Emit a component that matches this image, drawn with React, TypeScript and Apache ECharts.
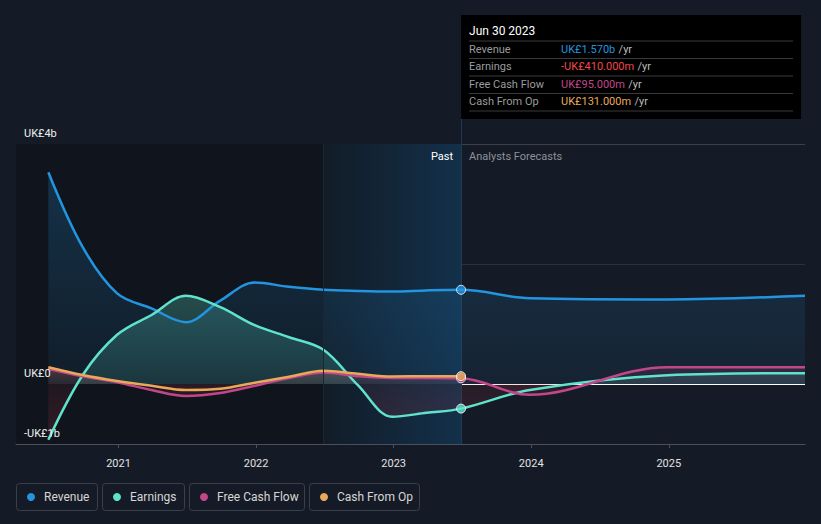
import React, { useEffect, useRef } from 'react';
import * as echarts from 'echarts';

// ---- data (UK£ billions) ----
const pastDates = [2020.49, 2020.74, 2020.99, 2021.24, 2021.49, 2021.74, 2021.99, 2022.24, 2022.49, 2022.74, 2022.99, 2023.24, 2023.49];
const forecastDates = [2023.99, 2024.99, 2025.99];
const revenuePast = [3.53, 2.28, 1.51, 1.26, 1.03, 1.39, 1.69, 1.62, 1.57, 1.55, 1.54, 1.56, 1.57];
const revenueForecast = [1.43, 1.41, 1.47];
const earningsPast = [-0.93, 0.15, 0.82, 1.15, 1.47, 1.28, 0.98, 0.78, 0.57, -0.02, -0.545, -0.48, -0.41];
const earningsForecast = [-0.1, 0.145, 0.18];
const fcfPast = [0.25, 0.13, 0.03, -0.1, -0.2, -0.15, -0.03, 0.1, 0.19, 0.13, 0.1, 0.1, 0.095];
const fcfForecast = [-0.18, 0.28, 0.28];
const cfoPast = [0.28, 0.15, 0.05, -0.03, -0.1, -0.08, 0.02, 0.12, 0.22, 0.17, 0.125, 0.13, 0.131];
const yearTicks = [2021, 2022, 2023, 2024, 2025];
const yLabelValues = [4, 0, -1];
const yLabelTexts = ['UK£4b', 'UK£0', '-UK£1b'];
const xMin = 2020.255;
const xMax = 2025.99;
const highlightStart = 2022.49;
const pastEnd = 2023.49;
const tooltipDate = 'Jun 30 2023';
const seriesNames = ['Revenue', 'Earnings', 'Free Cash Flow', 'Cash From Op'];
const colors = ['#2394df', '#5fe3cc', '#c2468a', '#e9a95b'];

const pair = (xs: number[], ys: number[]) => xs.map((x, i) => [x, ys[i]]);

function fmt(v: number) {
  const a = Math.abs(v);
  const s = a >= 1 ? 'UK£' + a.toFixed(3) + 'b' : 'UK£' + (a * 1000).toFixed(3) + 'm';
  return (v < 0 ? '-' : '') + s;
}

function splitGradient(vals: number[], top: string, mid: string, negMid: string, bottom: string) {
  const mx = Math.max(0, ...vals);
  const mn = Math.min(0, ...vals);
  const zf = mx - mn === 0 ? 1 : mx / (mx - mn);
  return new echarts.graphic.LinearGradient(0, 0, 0, 1, [
    { offset: 0, color: top },
    { offset: zf, color: mid },
    { offset: zf, color: negMid },
    { offset: 1, color: bottom },
  ]);
}

export default function App() {
  const ref = useRef<HTMLDivElement>(null);
  useEffect(() => {
    document.body.style.margin = '0';
    const chart = echarts.init(ref.current!, null, { renderer: 'svg' });
    const revenue = pair(pastDates, revenuePast).concat(pair(forecastDates, revenueForecast));
    const earnings = pair(pastDates, earningsPast).concat(pair(forecastDates, earningsForecast));
    const fcf = pair(pastDates, fcfPast).concat(pair(forecastDates, fcfForecast));
    const cfo = pair(pastDates, cfoPast);
    const last = pastDates.length - 1;
    const lastVals = [revenuePast[last], earningsPast[last], fcfPast[last], cfoPast[last]];

    const lineBase = {
      type: 'line',
      smooth: 0.35,
      symbol: 'none',
      z: 2,
      lineStyle: { width: 2.5 },
    };

    chart.setOption({
      animation: false,
      backgroundColor: '#151b26',
      textStyle: { fontFamily: 'Roboto, sans-serif' },
      grid: { left: 16, right: 16, top: 144, bottom: 80 },
      xAxis: {
        type: 'value',
        min: xMin,
        max: xMax,
        splitLine: { show: false },
        axisLine: { onZero: false, lineStyle: { color: '#4a4f59', width: 1 } },
        axisTick: { show: true, customValues: yearTicks, length: 4, lineStyle: { color: '#4a4f59' } },
        axisLabel: {
          customValues: yearTicks,
          color: '#e2e2e2',
          fontSize: 11,
          margin: 14,
          formatter: (v: number) => String(Math.round(v)),
        },
      },
      yAxis: {
        type: 'value',
        min: -1,
        max: 4,
        interval: 1,
        axisLine: { show: false },
        axisTick: { show: false },
        axisLabel: { show: false },
        splitLine: {
          show: true,
          lineStyle: {
            color: ['rgba(0,0,0,0)', '#ffffff', 'rgba(0,0,0,0)', '#2b3039', 'rgba(0,0,0,0)', '#3b4049'],
            width: 1,
          },
        },
      },
      series: [
        {
          type: 'line',
          name: 'bg',
          data: [[pastEnd, 0]],
          symbol: 'none',
          lineStyle: { opacity: 0 },
          z: 1,
          silent: true,
          markArea: {
            silent: true,
            data: [
              [{ xAxis: xMin, itemStyle: { color: '#10151d' } }, { xAxis: highlightStart }],
              [
                {
                  xAxis: highlightStart,
                  itemStyle: {
                    color: new echarts.graphic.LinearGradient(0, 0, 1, 0, [
                      { offset: 0, color: '#121c27' },
                      { offset: 1, color: '#13304a' },
                    ]),
                  },
                },
                { xAxis: pastEnd },
              ],
            ],
          },
          markLine: {
            silent: true,
            symbol: 'none',
            label: { show: false },
            lineStyle: { color: '#182838', type: 'solid', width: 1, opacity: 1 },
            data: [{ xAxis: highlightStart }],
          },
        },
        {
          ...lineBase,
          name: seriesNames[0],
          data: revenue,
          lineStyle: { width: 2.5, color: colors[0] },
          itemStyle: { color: colors[0] },
          areaStyle: {
            color: splitGradient(revenue.map((d) => d[1]), 'rgba(35,148,223,0.32)', 'rgba(35,148,223,0.09)', 'rgba(35,148,223,0.09)', 'rgba(35,148,223,0.09)'),
          },
        },
        {
          ...lineBase,
          name: seriesNames[1],
          data: earnings,
          lineStyle: { width: 2.5, color: colors[1] },
          itemStyle: { color: colors[1] },
          areaStyle: {
            color: splitGradient(earnings.map((d) => d[1]), 'rgba(95,227,204,0.38)', 'rgba(95,227,204,0.18)', 'rgba(200,55,70,0.12)', 'rgba(200,55,70,0.28)'),
          },
        },
        {
          ...lineBase,
          name: seriesNames[2],
          data: fcf,
          lineStyle: { width: 2.5, color: colors[2] },
          itemStyle: { color: colors[2] },
          areaStyle: {
            color: splitGradient(fcf.map((d) => d[1]), 'rgba(194,70,138,0.22)', 'rgba(194,70,138,0.10)', 'rgba(200,55,70,0.10)', 'rgba(200,55,70,0.2)'),
          },
        },
        {
          ...lineBase,
          name: seriesNames[3],
          data: cfo,
          lineStyle: { width: 2.5, color: colors[3] },
          itemStyle: { color: colors[3] },
          areaStyle: {
            color: splitGradient(cfo.map((d) => d[1]), 'rgba(233,169,91,0.2)', 'rgba(233,169,91,0.08)', 'rgba(200,55,70,0.08)', 'rgba(200,55,70,0.15)'),
          },
        },
        {
          type: 'scatter',
          name: 'markers',
          z: 5,
          symbolSize: 9,
          silent: true,
          data: [2, 1, 0, 3].map((i) => ({
            value: [pastEnd, lastVals[i]],
            itemStyle: { color: colors[i], borderColor: '#ffffff', borderWidth: 1 },
          })),
        },
      ],
    });

    const [px, gridTop] = chart.convertToPixel({ gridIndex: 0 }, [pastEnd, 4]) as number[];
    const [gridLeft, gridBottom] = chart.convertToPixel({ gridIndex: 0 }, [xMin, -1]) as number[];

    const yLabelEls = yLabelValues.map((v, i) => {
      const y = (chart.convertToPixel({ gridIndex: 0 }, [xMin, v]) as number[])[1];
      return {
        type: 'text', z: 10, x: gridLeft + 8, y: y - 5,
        style: { text: yLabelTexts[i], fill: '#f0f0f0', font: '11px Roboto, sans-serif', verticalAlign: 'bottom' },
      };
    });

    const boxTop = 15;
    const boxW = 340;
    const boxH = 104;
    const rowYs = [49, 66.5, 84, 101];
    const sepYs = [41, 58.5, 76, 93.5, 111];

    const tooltipEls: any[] = [
      { type: 'rect', shape: { x: px, y: boxTop, width: boxW, height: boxH }, style: { fill: '#000000' }, z: 10 },
      {
        type: 'text', x: px + 8, y: 31, z: 11,
        style: { text: tooltipDate, fill: '#ffffff', font: '12px Roboto, sans-serif', verticalAlign: 'middle' },
      },
      ...sepYs.map((y) => ({
        type: 'line', z: 11,
        shape: { x1: px + 8, y1: y, x2: px + boxW - 8, y2: y },
        style: { stroke: '#3a3a3a', lineWidth: 1 },
      })),
      ...seriesNames.map((n, i) => ({
        type: 'text', x: px + 8, y: rowYs[i], z: 11,
        style: { text: n, fill: '#9b9b9b', font: '11px Roboto, sans-serif', verticalAlign: 'middle' },
      })),
      ...seriesNames.map((n, i) => ({
        type: 'text', x: px + 100, y: rowYs[i], z: 11,
        style: {
          text: '{v|' + fmt(lastVals[i]) + '} {u|/yr}',
          verticalAlign: 'middle',
          rich: {
            v: { fill: lastVals[i] < 0 ? '#f04848' : colors[i], font: '11px Roboto, sans-serif' },
            u: { fill: '#bdbdbd', font: '11px Roboto, sans-serif' },
          },
        },
      })),
    ];

    const legendBoxes = [
      { x: 16, w: 81 },
      { x: 102, w: 82 },
      { x: 189, w: 115 },
      { x: 309, w: 110 },
    ];
    const legendEls: any[] = [];
    legendBoxes.forEach((b, i) => {
      legendEls.push({
        type: 'rect', z: 10,
        shape: { x: b.x + 0.5, y: 483.5, width: b.w, height: 27, r: 3 },
        style: { fill: 'transparent', stroke: '#3a3f49', lineWidth: 1 },
      });
      legendEls.push({
        type: 'circle', z: 10,
        shape: { cx: b.x + 15, cy: 497, r: 4 },
        style: { fill: colors[i] },
      });
      legendEls.push({
        type: 'text', z: 10, x: b.x + 28, y: 497,
        style: { text: seriesNames[i], fill: '#d6d6d6', font: '12px Roboto, sans-serif', verticalAlign: 'middle' },
      });
    });

    chart.setOption({
      graphic: [
        {
          type: 'line', z: 1.5, silent: true,
          shape: { x1: Math.round(px) + 0.5, y1: boxTop, x2: Math.round(px) + 0.5, y2: gridBottom },
          style: { stroke: '#1f3a52', lineWidth: 1 },
        },
        {
          type: 'text', x: px - 8, y: gridTop + 12, z: 10,
          style: { text: 'Past', fill: '#ffffff', font: '11px Roboto, sans-serif', align: 'right', verticalAlign: 'middle' },
        },
        {
          type: 'text', x: px + 8, y: gridTop + 12, z: 10,
          style: { text: 'Analysts Forecasts', fill: '#8c9099', font: '11px Roboto, sans-serif', align: 'left', verticalAlign: 'middle' },
        },
        ...yLabelEls,
        ...tooltipEls,
        ...legendEls,
      ],
    });

    return () => chart.dispose();
  }, []);
  return <div ref={ref} style={{ width: 821, height: 524, background: '#151b26' }} />;
}
